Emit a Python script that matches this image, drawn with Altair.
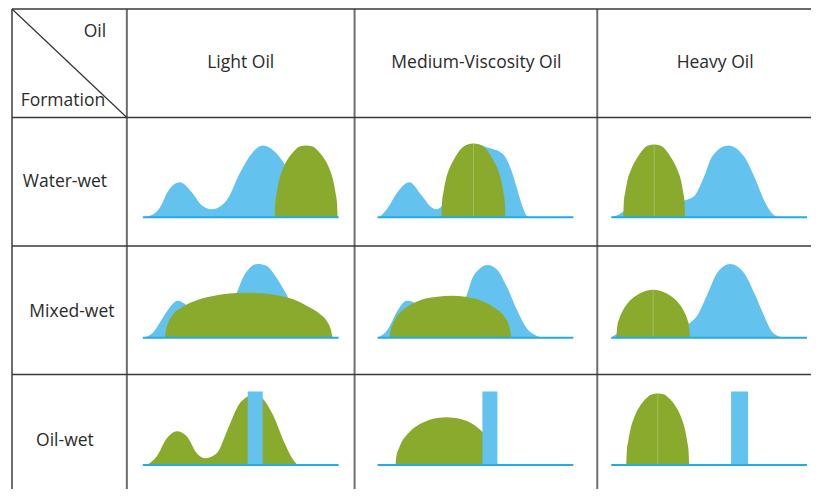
import altair as alt
import pandas as pd

# ---------------- text ----------------
COL_NAMES = ["Light Oil", "Medium-Viscosity Oil", "Heavy Oil"]
ROW_NAMES = ["Water-wet", "Mixed-wet", "Oil-wet"]
CORNER_TOP = "Oil"
CORNER_BOTTOM = "Formation"

# ---------------- table layout (diagram units) ----------------
V_LINES = [12, 127, 355, 598]
H_LINES = [8, 117, 246, 375]
TABLE_RIGHT = 812
TABLE_BOTTOM = 490
COL_AXIS_START = [143, 378, 612]
AXIS_LEN = 196
ROW_BASELINE = [217, 338, 466]
HEADER_X = [241, 477, 716]
HEADER_Y = 62
ROW_LABEL_X = [65, 72, 65]
ROW_LABEL_Y = [182, 312, 442]

# ---------------- curve values (local position, height) ----------------
# Water-wet
WW_LIGHT_BLUE_X = [0, 12, 19, 24, 37, 49, 59, 69, 84, 97, 109, 120, 134, 147, 162, 177, 187]
WW_LIGHT_BLUE_H = [0, 4, 13, 24, 35, 25, 12, 8, 17, 44, 64, 72, 64, 45, 20, 4, 0]
WW_LIGHT_GREEN_X = [132, 132.6, 134, 136, 140, 145, 151, 157, 163.5, 170, 176, 182, 187, 191, 193, 194.4, 195]
WW_LIGHT_GREEN_H = [0, 14, 24, 35, 48, 58, 66, 71, 72, 71, 66, 58, 48, 35, 24, 14, 0]

WW_MED_BLUE_X = [2, 10, 20, 32, 44, 54, 59, 67, 77, 87, 100, 110, 125, 134, 139, 144, 150, 153]
WW_MED_BLUE_H = [0, 9, 25, 35, 22, 10, 8, 15, 45, 64, 73, 70, 64, 47, 31, 14, 1, 0]
WW_MED_GREEN_X = [64, 64.6, 66, 68, 72, 77, 83, 90, 96, 102, 109, 115, 120, 124, 126, 127.4, 128]
WW_MED_GREEN_H = [0, 15, 25, 36, 49, 59, 68, 73, 74, 73, 68, 59, 49, 36, 25, 15, 0]

WW_HEAVY_BLUE_X = [0, 8, 20, 35, 50, 62, 74, 83, 93, 101, 117, 133, 144, 153, 163, 168]
WW_HEAVY_BLUE_H = [0, 3, 12, 22, 18, 14, 17, 21, 41, 61, 72, 61, 39, 17, 2, 0]
WW_HEAVY_GREEN_X = [12, 12.6, 14, 16, 20, 25, 31, 37, 43, 49, 55, 61, 66, 70, 72, 73.4, 74]
WW_HEAVY_GREEN_H = [0, 15, 25, 36, 48, 58, 67, 72, 73, 72, 67, 58, 48, 36, 25, 15, 0]

# Mixed-wet
MW_LIGHT_BLUE_X = [0, 10, 20, 29, 35, 42, 55, 70, 85, 94, 100, 107, 115, 124, 134, 144, 155, 165, 172]
MW_LIGHT_BLUE_H = [0, 5, 20, 33, 37, 34, 22, 12, 28, 45, 60, 70, 74, 72, 60, 43, 20, 5, 0]
MW_LIGHT_GREEN_X = [22, 23, 25, 30, 40, 54, 74, 90, 105, 120, 137, 152, 164, 177, 184, 188, 190]
MW_LIGHT_GREEN_H = [0, 7, 14, 23, 31, 37.5, 42.5, 44.5, 45, 44.5, 42, 38, 32, 24, 17, 9, 0]

MW_MED_BLUE_X = [0, 10, 20, 29, 35, 50, 65, 80, 89, 95, 102, 110, 120, 130, 140, 149, 159, 164]
MW_MED_BLUE_H = [0, 8, 27, 37, 36, 22, 12, 25, 42, 60, 69, 73, 68, 50, 27, 10, 2, 0]
MW_MED_GREEN_X = [12, 13, 15, 19, 27, 35, 44, 60, 74, 88, 104, 117, 127, 132, 134]
MW_MED_GREEN_H = [0, 7, 13, 21, 29, 34, 38, 41, 42, 41, 37, 30, 21, 11, 0]

MW_HEAVY_BLUE_X = [0, 15, 30, 50, 70, 79, 86, 96, 106, 119, 133, 144, 153, 161, 169, 172]
MW_HEAVY_BLUE_H = [0, 10, 15, 12, 10, 15, 22, 43, 65, 74, 65, 43, 22, 6, 1, 0]
MW_HEAVY_GREEN_X = [5, 6, 8, 11, 16, 22, 30, 42, 54, 62, 68, 73, 76, 78, 79]
MW_HEAVY_GREEN_H = [0, 11, 19, 26, 34, 40, 45, 48, 45, 40, 34, 26, 19, 11, 0]

# Oil-wet
OW_LIGHT_GREEN_X = [4, 14, 24, 34, 44, 54, 62, 74, 85, 97, 105, 112, 120, 130, 142, 150, 155]
OW_LIGHT_GREEN_H = [0, 9, 27, 34, 29, 12, 7, 12, 36, 62, 69, 72, 67, 51, 22, 6, 0]
OW_MED_GREEN_X = [18, 19, 21, 24, 29, 36, 44, 54, 62, 69, 76, 84, 94, 101, 108, 114, 117, 119, 120]
OW_MED_GREEN_H = [0, 10, 16, 23, 30, 37, 42, 46, 47.5, 48, 47.5, 46, 42, 37, 30, 23, 16, 10, 0]
OW_HEAVY_GREEN_X = [15, 15.6, 17, 19, 23, 28, 34, 40, 46.5, 53, 59, 65, 70, 74, 76, 77.4, 78]
OW_HEAVY_GREEN_H = [0, 14, 24, 35, 48, 58, 66, 71, 72, 71, 66, 58, 48, 35, 24, 14, 0]

# Oil-wet water bars: start, end, height
OW_BAR_START = [105, 105, 120]
OW_BAR_END = [120, 120, 137]
OW_BAR_H = [74, 74, 74]

# lighter seams inside some domes: (row, col, position, height)
SEAM_ROW = [0, 0, 1, 2]
SEAM_COL = [1, 2, 2, 2]
SEAM_X = [96, 43, 42, 46.5]
SEAM_H = [74, 73, 48, 72]

BLUE = "#63c3ee"
GREEN = "#89aa2d"
AXIS_BLUE = "#29a9e1"

blue_shapes = [
    (0, 0, WW_LIGHT_BLUE_X, WW_LIGHT_BLUE_H),
    (0, 1, WW_MED_BLUE_X, WW_MED_BLUE_H),
    (0, 2, WW_HEAVY_BLUE_X, WW_HEAVY_BLUE_H),
    (1, 0, MW_LIGHT_BLUE_X, MW_LIGHT_BLUE_H),
    (1, 1, MW_MED_BLUE_X, MW_MED_BLUE_H),
    (1, 2, MW_HEAVY_BLUE_X, MW_HEAVY_BLUE_H),
]
green_shapes = [
    (0, 0, WW_LIGHT_GREEN_X, WW_LIGHT_GREEN_H),
    (0, 1, WW_MED_GREEN_X, WW_MED_GREEN_H),
    (0, 2, WW_HEAVY_GREEN_X, WW_HEAVY_GREEN_H),
    (1, 0, MW_LIGHT_GREEN_X, MW_LIGHT_GREEN_H),
    (1, 1, MW_MED_GREEN_X, MW_MED_GREEN_H),
    (1, 2, MW_HEAVY_GREEN_X, MW_HEAVY_GREEN_H),
    (2, 0, OW_LIGHT_GREEN_X, OW_LIGHT_GREEN_H),
    (2, 1, OW_MED_GREEN_X, OW_MED_GREEN_H),
    (2, 2, OW_HEAVY_GREEN_X, OW_HEAVY_GREEN_H),
]

X = alt.X("x:Q", scale=alt.Scale(domain=[8, 812], nice=False, zero=False), axis=None)
Y = alt.Y("y:Q", scale=alt.Scale(domain=[8, 490], nice=False, zero=False, reverse=True), axis=None)


def area_layer(r, c, xs, hs, color):
    df = pd.DataFrame({
        "x": [COL_AXIS_START[c] + x for x in xs],
        "y": [ROW_BASELINE[r] - h for h in hs],
        "yb": [ROW_BASELINE[r]] * len(xs),
    })
    return alt.Chart(df).mark_area(color=color, interpolate="monotone", opacity=1).encode(
        x=X, y=Y, y2="yb:Q")


blue_layers = [area_layer(r, c, xs, hs, BLUE) for r, c, xs, hs in blue_shapes]
green_layers = [area_layer(r, c, xs, hs, GREEN) for r, c, xs, hs in green_shapes]

bar_df = pd.DataFrame([
    dict(x=COL_AXIS_START[c] + OW_BAR_START[c], x2=COL_AXIS_START[c] + OW_BAR_END[c],
         y=ROW_BASELINE[2] - OW_BAR_H[c], y2=ROW_BASELINE[2])
    for c in range(3)
])

seam_df = pd.DataFrame([
    dict(x=COL_AXIS_START[c] + sx, y=ROW_BASELINE[r] - sh, y2=ROW_BASELINE[r])
    for r, c, sx, sh in zip(SEAM_ROW, SEAM_COL, SEAM_X, SEAM_H)
])

base_df = pd.DataFrame([
    dict(x=COL_AXIS_START[c], x2=COL_AXIS_START[c] + AXIS_LEN, y=ROW_BASELINE[r])
    for r in range(3) for c in range(3)
])

vline_df = pd.DataFrame([dict(x=v, y=H_LINES[0], y2=TABLE_BOTTOM) for v in V_LINES])
hline_df = pd.DataFrame([dict(x=V_LINES[0], x2=TABLE_RIGHT, y=h) for h in H_LINES])
diag_df = pd.DataFrame([dict(x=V_LINES[0], y=H_LINES[0], x2=V_LINES[1], y2=H_LINES[1])])

text_df = pd.DataFrame(
    [dict(t=n, x=x, y=HEADER_Y) for n, x in zip(COL_NAMES, HEADER_X)]
    + [dict(t=n, x=x, y=y) for n, x, y in zip(ROW_NAMES, ROW_LABEL_X, ROW_LABEL_Y)]
    + [dict(t=CORNER_TOP, x=95, y=31), dict(t=CORNER_BOTTOM, x=63, y=100)]
)

seam_layer = alt.Chart(seam_df).mark_rule(color="#a3bf5c", strokeWidth=1).encode(
    x=X, y=Y, y2="y2:Q")
bar_layer = alt.Chart(bar_df).mark_rect(color=BLUE).encode(
    x=X, x2="x2:Q", y=Y, y2="y2:Q")
base_layer = alt.Chart(base_df).mark_rule(color=AXIS_BLUE, strokeWidth=2).encode(
    x=X, x2="x2:Q", y=Y)
vline_layer = alt.Chart(vline_df).mark_rule(color="#6e6e6e", strokeWidth=2).encode(
    x=X, y=Y, y2="y2:Q")
hline_layer = alt.Chart(hline_df).mark_rule(color="#3a3a3a", strokeWidth=1.5).encode(
    x=X, x2="x2:Q", y=Y)
diag_layer = alt.Chart(diag_df).mark_rule(color="#333333", strokeWidth=1.2).encode(
    x=X, x2="x2:Q", y=Y, y2="y2:Q")
text_layer = alt.Chart(text_df).mark_text(
    font="Open Sans", fontSize=17.5, color="#2b2b2b", align="center", baseline="middle"
).encode(x=X, y=Y, text="t:N")

chart = alt.layer(
    *blue_layers, *green_layers, seam_layer, bar_layer, base_layer,
    vline_layer, hline_layer, diag_layer, text_layer
).properties(
    width=804, height=482, padding=0,
    autosize=alt.AutoSizeParams(type="fit", contains="padding"),
    background="white",
).configure_view(stroke=None)

chart.save("out.html", embed_options={"renderer": "svg", "actions": False})
